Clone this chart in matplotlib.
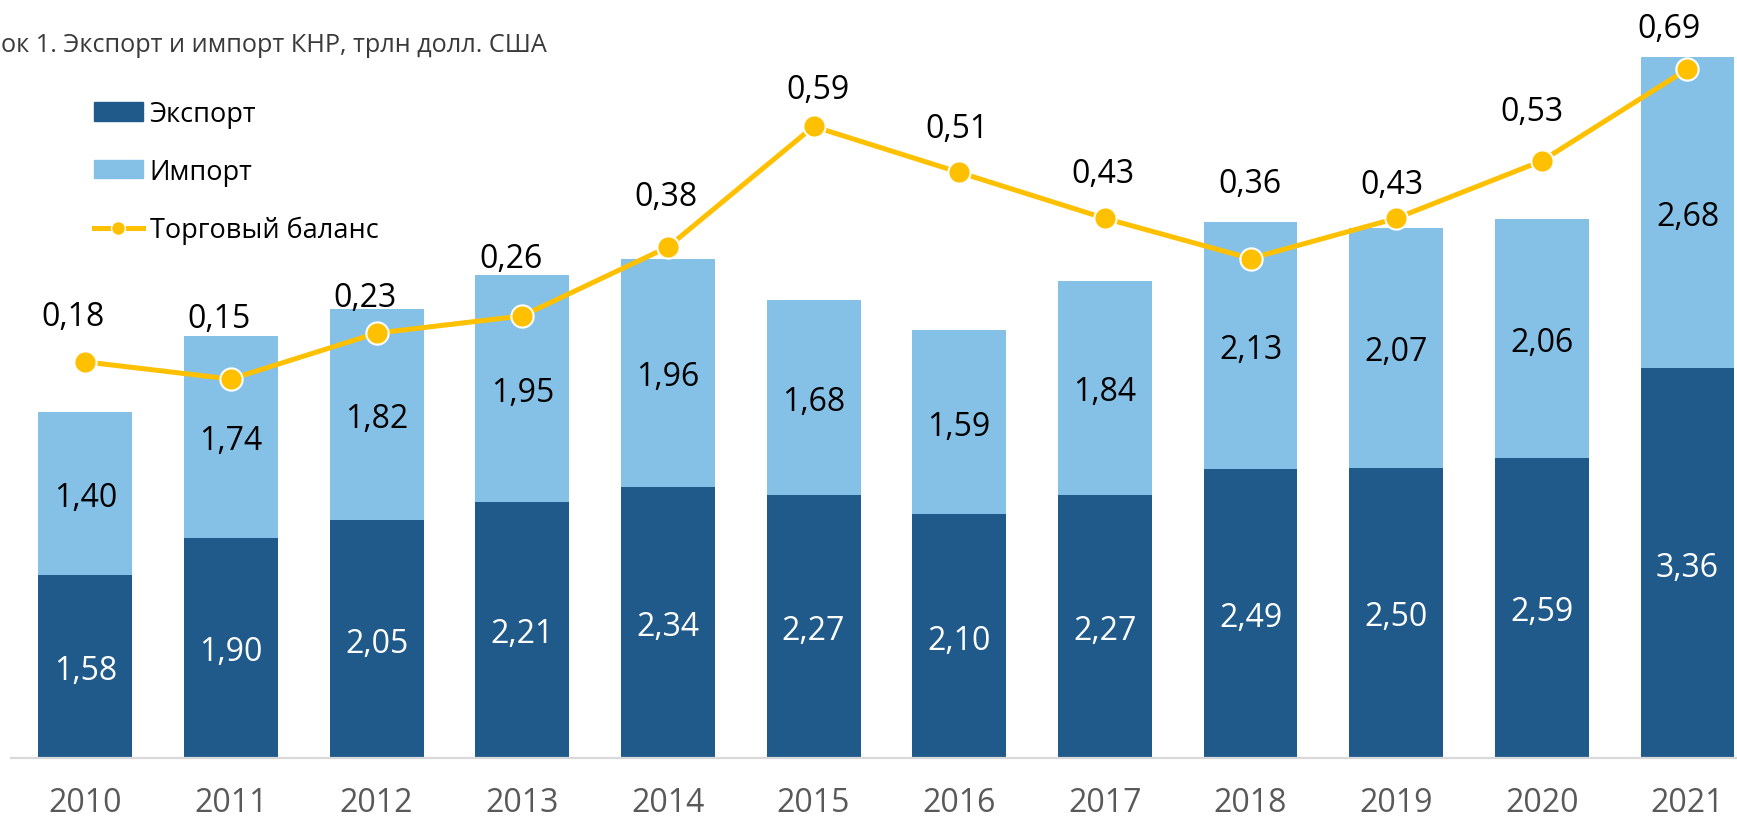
import numpy as np
import matplotlib
matplotlib.use("Agg")
import matplotlib.pyplot as plt
from matplotlib.patches import Patch
from matplotlib.lines import Line2D

plt.rcParams["font.family"] = ["Open Sans", "DejaVu Sans"]

# data (трлн долл. США)
years = ["2010", "2011", "2012", "2013", "2014", "2015",
         "2016", "2017", "2018", "2019", "2020", "2021"]
export = [1.58, 1.90, 2.05, 2.21, 2.34, 2.27, 2.10, 2.27, 2.49, 2.50, 2.59, 3.36]
imports = [1.40, 1.74, 1.82, 1.95, 1.96, 1.68, 1.59, 1.84, 2.13, 2.07, 2.06, 2.68]
balance = [0.18, 0.15, 0.23, 0.26, 0.38, 0.59, 0.51, 0.43, 0.36, 0.43, 0.53, 0.69]

# the left part of the caption is cut off in the source picture
title = "ок 1. Экспорт и импорт КНР, трлн долл. США"

# label placement for the balance values (pixels, relative to the point)
bal_dx = [-12, -12, -12, -11, -2, 4, -2, -2, -1, -4, -10, -18]
bal_dy = [49, 65, 40, 61, 55, 41, 48, 49, 79, 38, 53, 45]

C_EXP = "#1f5a8b"
C_IMP = "#85c1e6"
C_BAL = "#ffc000"

W, H = 1737, 820
fig = plt.figure(figsize=(W / 100, H / 100), dpi=100)
ax = fig.add_axes([11 / W, 61 / H, 1 - 11 / W, 759 / H])

x = np.arange(len(years))
fmt = lambda v: f"{v:.2f}".replace(".", ",")

b1 = ax.bar(x, export, width=0.645, color=C_EXP)
b2 = ax.bar(x, imports, width=0.645, bottom=export, color=C_IMP)
lab1 = ax.bar_label(b1, labels=[fmt(v) for v in export], label_type="center",
                    color="white", fontsize=23)
lab2 = ax.bar_label(b2, labels=[fmt(v) for v in imports], label_type="center",
                    color="black", fontsize=23)
for t in lab1 + lab2:
    t.set_va("center_baseline")

ax.set_xlim(-0.51, 11.34)
ax.set_ylim(0, 759 / 116)
ax.set_yticks([])
ax.set_xticks(x, years)
ax.tick_params(axis="x", length=0, pad=20, labelsize=23, labelcolor="#595959")
for s in ["top", "left", "right"]:
    ax.spines[s].set_visible(False)
ax.spines["bottom"].set_color("#d9d9d9")
ax.spines["bottom"].set_linewidth(1.6)

ax2 = ax.twinx()
ax2.set_ylim(-0.510, 0.812)
ax2.axis("off")
ax2.plot(x, balance, color=C_BAL, lw=3.6, marker="o", ms=16,
         mec="white", mew=1.5, zorder=3)
for xi, v, dx, dy in zip(x, balance, bal_dx, bal_dy):
    ax2.annotate(fmt(v), (xi, v), xytext=(dx, dy), textcoords="offset pixels",
                 ha="center", va="center_baseline", fontsize=23, color="black")

fig.text(1 / W, (H - 52) / H, title, ha="left", va="baseline",
         fontsize=18.2, color="#3a3a3a")

handles = [Patch(color=C_EXP), Patch(color=C_IMP),
           Line2D([], [], color=C_BAL, lw=3.6, marker="o", ms=10,
                  mec="white", mew=1)]
fig.legend(handles, ["Экспорт", "Импорт", "Торговый баланс"],
           loc="upper left", bbox_to_anchor=(94 / W, (H - 101) / H),
           frameon=False, fontsize=19.5, handlelength=1.8, handleheight=0.65,
           handletextpad=0.25, labelspacing=1.1, borderpad=0, borderaxespad=0)

fig.savefig("out.png", dpi=100)
